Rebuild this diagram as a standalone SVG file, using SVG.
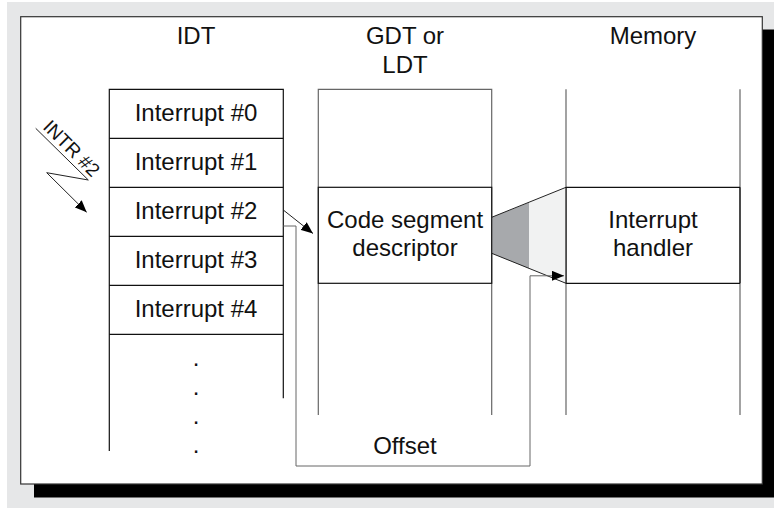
<svg xmlns="http://www.w3.org/2000/svg" width="774" height="508" viewBox="0 0 774 508">
  <defs>
    <marker id="arr" viewBox="0 0 12 10" refX="12" refY="5" markerWidth="12" markerHeight="10" markerUnits="userSpaceOnUse" orient="auto">
      <path d="M0,0 L12,5 L0,10 Z" fill="#000"/>
    </marker>
    <style>
      text { font-family: "Liberation Sans", Arial, Helvetica, sans-serif; font-size: 24px; fill: #111; }
      .mid { text-anchor: middle; }
      .blk { fill: none; stroke: #111; stroke-width: 1.2; }
      .gry { fill: none; stroke: #666; stroke-width: 1.2; }
      .conn { fill: none; stroke: #222; stroke-width: 1; }
    </style>
  </defs>

  <rect x="0" y="0" width="774" height="508" fill="#fff"/>
  <rect x="7" y="2" width="767" height="506" fill="#e6e7e8"/>
  <rect x="34" y="29.5" width="740" height="468" fill="#000"/>
  <rect x="20.7" y="16.7" width="741.6" height="467.3" fill="#fff" stroke="#333" stroke-width="1.2"/>

  <g id="headers">
    <text class="mid" x="196" y="44.3">IDT</text>
    <text class="mid" x="405" y="44.3">GDT or</text>
    <text class="mid" x="405" y="72.7">LDT</text>
    <text class="mid" x="653" y="44.3">Memory</text>
  </g>

  <g id="idt">
    <path class="blk" d="M109.3,451 V89.3 H283.3 V398.3"/>
    <path class="blk" d="M109.3,138.3 H283.3 M109.3,187.3 H283.3 M109.3,236.3 H283.3 M109.3,285.3 H283.3 M109.3,334.3 H283.3"/>
    <text class="mid" x="196" y="120.5">Interrupt #0</text>
    <text class="mid" x="196" y="169.5">Interrupt #1</text>
    <text class="mid" x="196" y="218.5">Interrupt #2</text>
    <text class="mid" x="196" y="267.5">Interrupt #3</text>
    <text class="mid" x="196" y="316.5">Interrupt #4</text>
    <text class="mid" x="196" y="366">.</text>
    <text class="mid" x="196" y="395">.</text>
    <text class="mid" x="196" y="424">.</text>
    <text class="mid" x="196" y="453">.</text>
  </g>

  <g id="gdt">
    <path class="gry" d="M318.3,415 V89.3 H491.7 V415"/>
  </g>

  <g id="memory">
    <path class="gry" d="M566,89.3 V415 M740,89.3 V415"/>
  </g>

  <g id="mapping">
    <polygon points="491.7,217.3 529,202.6 529,268.5 491.7,253.3" fill="#a7a9ac"/>
    <polygon points="529,202.6 566,187.3 566,283.3 529,268.5" fill="#f1f2f2"/>
    <path class="conn" d="M491.7,217.3 L566,187.3 M491.7,253.3 L566,283.3"/>
  </g>

  <g id="code-segment-descriptor">
    <rect x="318.3" y="187.3" width="173.4" height="96" fill="#fff" stroke="#111" stroke-width="1.2"/>
    <text class="mid" x="405" y="228.3">Code segment</text>
    <text class="mid" x="405" y="256">descriptor</text>
  </g>

  <g id="interrupt-handler">
    <path class="blk" d="M566,187.3 H740 M566,283.3 H740 M566,187.3 V283.3 M740,187.3 V283.3"/>
    <text class="mid" x="653" y="228.3">Interrupt</text>
    <text class="mid" x="653" y="256">handler</text>
  </g>

  <g id="intr">
    <path class="conn" d="M35.7,128.3 L88.3,180 L46.7,172.7 L86.7,212.3" marker-end="url(#arr)"/>
    <text class="mid" transform="translate(67,153) rotate(45)" style="font-size:19px">INTR #2</text>
  </g>

  <g id="connectors">
    <path class="conn" d="M283.3,210 L313,233.5" marker-end="url(#arr)"/>
    <path class="gry" style="stroke-width:1" d="M283.3,226 H296 V466 H530 V275.8 H564" marker-end="url(#arr)"/>
    <text class="mid" x="405" y="454">Offset</text>
  </g>
</svg>
